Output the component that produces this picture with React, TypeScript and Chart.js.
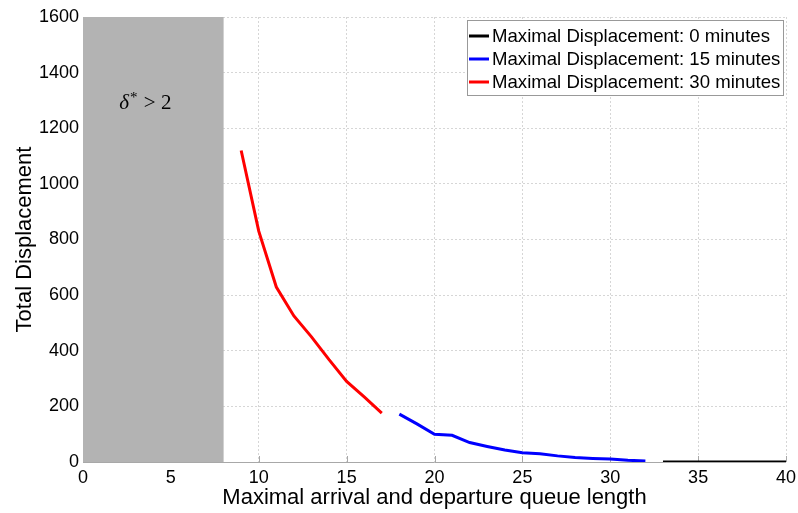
import React, { useEffect, useRef } from "react";
import { Chart, registerables } from "chart.js";

Chart.register(...registerables);

const xTickValues = [0, 5, 10, 15, 20, 25, 30, 35, 40];
const yTickValues = [0, 200, 400, 600, 800, 1000, 1200, 1400, 1600];

const seriesLabels = [
  "Maximal Displacement: 0 minutes",
  "Maximal Displacement: 15 minutes",
  "Maximal Displacement: 30 minutes",
];
const seriesColors = ["#000000", "#0000ff", "#ff0000"];

const x0 = [33, 34, 35, 36, 37, 38, 39, 40];
const y0 = [2, 2, 2, 2, 2, 2, 2, 2];

const x15 = [18, 19, 20, 21, 22, 23, 24, 25, 26, 27, 28, 29, 30, 31, 32];
const y15 = [172, 137, 100, 96, 70, 56, 43, 33, 30, 22, 16, 13, 11, 6, 4];

const x30 = [9, 10, 11, 12, 13, 14, 15, 16, 17];
const y30 = [1120, 830, 629, 525, 450, 368, 290, 234, 176];

const shadedRange = [0, 8];
const annotationPos = [3.55, 1296];

const SANS = "'Liberation Sans', Arial, Helvetica, sans-serif";

const pts = (xs: number[], ys: number[]) => xs.map((x, i) => ({ x, y: ys[i] }));

const shadePlugin = {
  id: "shade",
  beforeDatasetsDraw(chart: any) {
    const { ctx, chartArea, scales } = chart;
    const xs = scales.x;
    const left = xs.getPixelForValue(shadedRange[0]);
    const right = xs.getPixelForValue(shadedRange[1]);
    ctx.save();
    ctx.strokeStyle = "#a8a8a8";
    ctx.lineWidth = 1;
    ctx.setLineDash([]);
    ctx.beginPath();
    ctx.moveTo(chartArea.left, Math.round(chartArea.bottom) + 0.5);
    ctx.lineTo(chartArea.right, Math.round(chartArea.bottom) + 0.5);
    ctx.stroke();
    ctx.fillStyle = "#b3b3b3";
    ctx.fillRect(left, chartArea.top, right - left, chartArea.bottom - chartArea.top);
    xTickValues.forEach((v) => {
      const px = Math.round(xs.getPixelForValue(v)) + 0.5;
      if (v < shadedRange[1]) return;
      ctx.beginPath();
      ctx.moveTo(px, chartArea.bottom);
      ctx.lineTo(px, chartArea.bottom - 6);
      ctx.stroke();
    });
    const cx = xs.getPixelForValue(annotationPos[0]);
    const cy = scales.y.getPixelForValue(annotationPos[1]);
    ctx.fillStyle = "#000";
    ctx.textBaseline = "alphabetic";
    const base = cy + 7;
    const f1 = "italic 21px 'Liberation Serif', 'DejaVu Serif', serif";
    const f2 = "15px 'Liberation Serif', 'DejaVu Serif', serif";
    const f3 = "21px 'Liberation Serif', 'DejaVu Serif', serif";
    ctx.font = f1;
    const w1 = ctx.measureText("δ").width;
    ctx.font = f2;
    const w2 = ctx.measureText("*").width;
    ctx.font = f3;
    const w3 = ctx.measureText(" > 2").width;
    const total = w1 + w2 + 2 + w3;
    let x = cx - total / 2;
    ctx.font = f1;
    ctx.fillText("δ", x, base);
    x += w1 + 1;
    ctx.font = f2;
    ctx.fillText("*", x, base - 7);
    x += w2 + 1;
    ctx.font = f3;
    ctx.fillText(" > 2", x, base);
    ctx.restore();
  },
};

const legendPlugin = {
  id: "customLegend",
  afterDatasetsDraw(chart: any) {
    const { ctx, chartArea } = chart;
    const right = chartArea.right - 3;
    const top = chartArea.top + 3;
    const boxW = 316;
    const boxH = 75;
    const left = right - boxW;
    ctx.save();
    ctx.setLineDash([]);
    ctx.fillStyle = "#ffffff";
    ctx.fillRect(left, top, boxW, boxH);
    ctx.strokeStyle = "#999999";
    ctx.lineWidth = 1;
    ctx.strokeRect(Math.round(left) + 0.5, Math.round(top) + 0.5, boxW, boxH);
    ctx.font = "18.6px " + SANS;
    ctx.textBaseline = "middle";
    chart.data.datasets.forEach((ds: any, i: number) => {
      const cy = top + 16 + i * 23;
      ctx.strokeStyle = ds.borderColor;
      ctx.lineWidth = 3;
      ctx.beginPath();
      ctx.moveTo(left + 2, cy);
      ctx.lineTo(left + 22, cy);
      ctx.stroke();
      ctx.fillStyle = "#000";
      ctx.fillText(ds.label, left + 25, cy + 1);
    });
    ctx.restore();
  },
};

export default function App() {
  const ref = useRef<HTMLCanvasElement | null>(null);
  useEffect(() => {
    if (!ref.current) return;
    const gridCfg = {
      color: "#d6d6d6",
      lineWidth: 1,
      drawTicks: false,
    };
    const chart = new Chart(ref.current, {
      type: "line",
      data: {
        datasets: [
          {
            label: seriesLabels[0],
            data: pts(x0, y0),
            borderColor: seriesColors[0],
            borderWidth: 2,
            pointRadius: 0,
            tension: 0,
          },
          {
            label: seriesLabels[1],
            data: pts(x15, y15),
            borderColor: seriesColors[1],
            borderWidth: 3,
            pointRadius: 0,
            tension: 0,
          },
          {
            label: seriesLabels[2],
            data: pts(x30, y30),
            borderColor: seriesColors[2],
            borderWidth: 3,
            pointRadius: 0,
            tension: 0,
          },
        ],
      },
      options: {
        responsive: false,
        animation: false,
        layout: { padding: { left: 0, right: 12, top: 17, bottom: 0 } },
        plugins: {
          legend: { display: false },
          tooltip: { enabled: false },
        },
        scales: {
          x: {
            type: "linear",
            min: 0,
            max: 40,
            afterBuildTicks: (s: any) => {
              s.ticks = xTickValues.map((v) => ({ value: v }));
            },
            afterFit: (s: any) => {
              s.height = 51;
              s.paddingLeft = 0;
              s.paddingRight = 0;
            },
            grid: gridCfg,
            border: { display: false, dash: [2, 2] },
            ticks: {
              color: "#000",
              padding: 5,
              maxRotation: 0,
              autoSkip: false,
              font: { family: SANS, size: 18 },
              callback: (v: any) => String(v),
            },
            title: {
              display: true,
              text: "Maximal arrival and departure queue length",
              color: "#000",
              font: { family: SANS, size: 22, lineHeight: 1.2 },
              padding: { top: 0, bottom: 2 },
            },
          },
          y: {
            type: "linear",
            min: 0,
            max: 1600,
            afterBuildTicks: (s: any) => {
              s.ticks = yTickValues.map((v) => ({ value: v }));
            },
            afterFit: (s: any) => {
              s.width = 83;
              s.paddingTop = 0;
              s.paddingBottom = 0;
            },
            grid: gridCfg,
            border: { display: false, dash: [2, 2] },
            ticks: {
              color: "#000",
              padding: 4,
              autoSkip: false,
              font: { family: SANS, size: 18 },
              callback: (v: any) => String(v),
            },
            title: {
              display: true,
              text: "Total Displacement",
              color: "#000",
              font: { family: SANS, size: 22, lineHeight: 1.2 },
              padding: { top: 12, bottom: 0 },
            },
          },
        },
      } as any,
      plugins: [shadePlugin, legendPlugin],
    });
    return () => chart.destroy();
  }, []);
  return (
    <div style={{ position: "fixed", left: 0, top: 0, width: 798, height: 513, background: "#fff" }}>
      <canvas ref={ref} width={798} height={513} style={{ width: 798, height: 513 }} />
    </div>
  );
}
